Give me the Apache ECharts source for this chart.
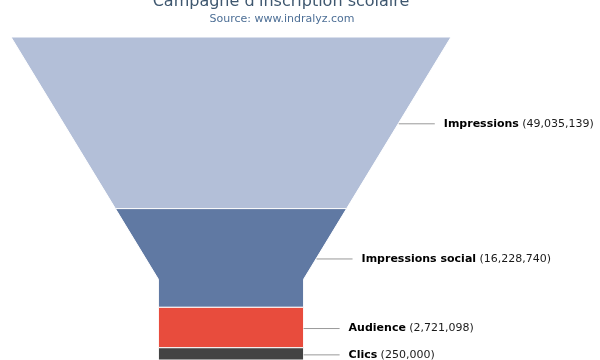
<!DOCTYPE html>
<html>
<head>
<meta charset="utf-8">
<script src="https://cdn.jsdelivr.net/npm/echarts@6/dist/echarts.min.js"></script>
<style>html,body{margin:0;padding:0;background:#fff;}#c{width:600px;height:360px;}</style>
</head>
<body>
<div id="c"></div>
<script>
const titleText = "Campagne d'inscription scolaire";
const subtitleText = "Source: www.indralyz.com";
const categories = ['Impressions', 'Impressions social', 'Audience', 'Clics'];
const values = [49035139, 16228740, 2721098, 250000];
const colors = ['#b3bfd8', '#6079a3', '#e84c3d', '#434343'];

const neckWidth = 0.33;   // fraction of top width
const neckHeight = 0.25;  // fraction of total height

// segment extents (area-like scaling of values)
const sizes = values.map(v => Math.sqrt(v));
const total = sizes.reduce((a, b) => a + b, 0);
const segData = [];
let acc = 0;
sizes.forEach((s, i) => {
  segData.push([i, acc, acc + s, values[i]]);
  acc += s;
});
const neckY = total * (1 - neckHeight);
function halfW(y) {
  if (y >= neckY) return neckWidth;
  return 1 - (1 - neckWidth) * (y / neckY);
}

const chart = echarts.init(document.getElementById('c'), null, {renderer: 'canvas'});
chart.setOption({
  animation: false,
  title: [
    {text: titleText, left: 276, textAlign: 'center', top: -11,
     textStyle: {fontFamily: 'DejaVu Sans', fontSize: 16, fontWeight: 'normal', color: '#3e576f'}},
    {text: subtitleText, left: 277, textAlign: 'center', top: 9,
     textStyle: {fontFamily: 'DejaVu Sans', fontSize: 11, fontWeight: 'normal', color: '#4d6f96'}}
  ],
  grid: {left: 11, right: 149, top: 37, height: 324},
  xAxis: {type: 'value', min: -1, max: 1, show: false},
  yAxis: {type: 'value', min: 0, max: total, inverse: true, show: false},
  series: [{
    type: 'custom',
    clip: false,
    data: segData,
    renderItem: function (params, api) {
      const i = api.value(0), y0 = api.value(1), y1 = api.value(2), v = api.value(3);
      const left = [], right = [];
      left.push(api.coord([-halfW(y0), y0]));
      right.push(api.coord([halfW(y0), y0]));
      if (y0 < neckY && y1 > neckY) {
        left.push(api.coord([-neckWidth, neckY]));
        right.push(api.coord([neckWidth, neckY]));
      }
      left.push(api.coord([-halfW(y1), y1]));
      right.push(api.coord([halfW(y1), y1]));
      const pts = left.concat(right.reverse());
      const mid = (y0 + y1) / 2;
      const p = api.coord([halfW(mid), mid]);
      return {
        type: 'group',
        children: [
          {type: 'polygon', shape: {points: pts},
           style: {fill: colors[i], stroke: '#ffffff', lineWidth: 1}},
          {type: 'line', shape: {x1: p[0], y1: p[1] + 1, x2: p[0] + 36, y2: p[1] + 1},
           style: {stroke: '#999999', lineWidth: 1}},
          {type: 'text', x: p[0] + 45, y: p[1] + 1,
           style: {
             text: '{b|' + categories[i] + '} {n|(' + v.toLocaleString('en-US') + ')}',
             verticalAlign: 'middle', align: 'left',
             rich: {
               b: {fontFamily: 'DejaVu Sans', fontSize: 11, fontWeight: 'bold', fill: '#000000'},
               n: {fontFamily: 'DejaVu Sans', fontSize: 11, fill: '#1a1a1a'}
             }
           }}
        ]
      };
    }
  }]
});
</script>
</body>
</html>
